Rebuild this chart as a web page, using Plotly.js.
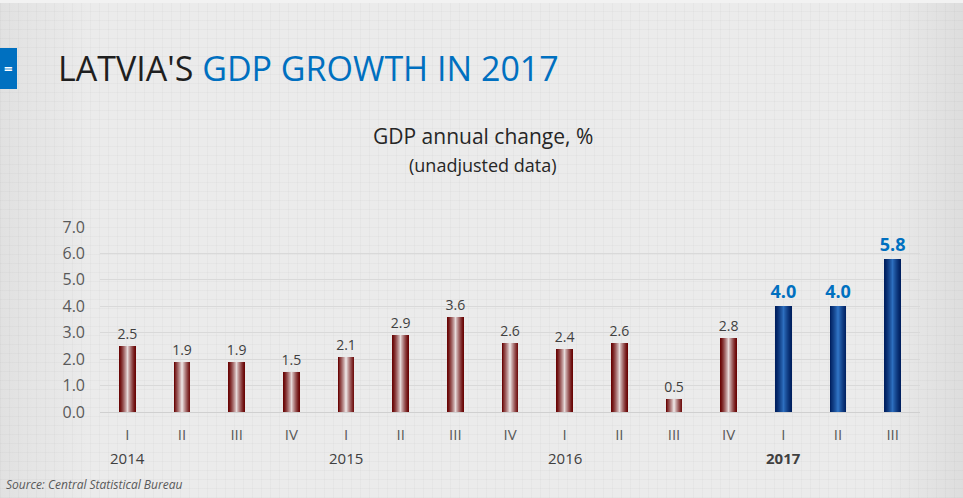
<!DOCTYPE html>
<html>
<head>
<meta charset="utf-8">
<script src="https://cdn.plot.ly/plotly-3.0.1.min.js"></script>
<style>
html,body{margin:0;padding:0;}
#chart{width:963px;height:498px;
 background-color:#ebebeb;
 background-image:
  linear-gradient(90deg, rgba(0,0,0,0.045) 0px, rgba(0,0,0,0) 90px, rgba(0,0,0,0) 880px, rgba(0,0,0,0.06) 963px),
  repeating-linear-gradient(0deg, rgba(0,0,0,0.025) 0px, rgba(0,0,0,0.025) 1px, transparent 1px, transparent 9px),
  repeating-linear-gradient(90deg, rgba(0,0,0,0.025) 0px, rgba(0,0,0,0.025) 1px, transparent 1px, transparent 9px);
 box-sizing:border-box;border-top:3px solid #f2f2f2;}
</style>
</head>
<body>
<div id="chart"></div>
<script>
// ---- data ----
const quarters = ["I","II","III","IV","I","II","III","IV","I","II","III","IV","I","II","III"];
const years = ["2014","2015","2016","2017"];
const yearStartIndex = [0, 4, 8, 12];
const gdpChange = [2.5, 1.9, 1.9, 1.5, 2.1, 2.9, 3.6, 2.6, 2.4, 2.6, 0.5, 2.8, 4.0, 4.0, 5.8];
const highlight = [false,false,false,false,false,false,false,false,false,false,false,false,true,true,true];
const yTicks = [0,1,2,3,4,5,6,7];

// ---- styling helpers ----
function hex(c){return [parseInt(c.slice(1,3),16),parseInt(c.slice(3,5),16),parseInt(c.slice(5,7),16)];}
function mix(a,b,t){const A=hex(a),B=hex(b);return 'rgb('+A.map((v,i)=>Math.round(v+(B[i]-v)*t)).join(',')+')';}
const redEdge="#6a0606", redMid="#e6d9d9";
const blueEdge="#002060", blueMid="#2d6fbf";
const xIdx = quarters.map((q,i)=>i);
const layers = 9;
const fullW = 0.31;
const traces = [];
for(let k=0;k<layers;k++){
  const t = k/(layers-1);
  const w = fullW*(1 - 0.92*t);
  const ease = Math.pow(t,1.3);
  traces.push({
    type:'bar', x:xIdx, y:gdpChange, width:w,
    marker:{color:highlight.map(h=> h? mix(blueEdge,blueMid,ease) : mix(redEdge,redMid,ease)), line:{width:0}},
    hoverinfo:'skip', showlegend:false,
    text: k===0 ? gdpChange.map((v,i)=> highlight[i] ? '<b>'+v.toFixed(1)+'</b>' : v.toFixed(1)) : undefined,
    textposition: k===0 ? 'outside' : 'none',
    constraintext:'none',
    cliponaxis:false,
    textfont: {family:'Open Sans', size: highlight.map(h=>h?18:14), color: highlight.map(h=>h?'#0070c0':'#404040')}
  });
}

const annotations = [];
years.forEach((yr,j)=>{
  annotations.push({xref:'x', yref:'paper', x:yearStartIndex[j], y:-0.248, text: yr==='2017' ? '<b>'+yr+'</b>' : yr,
    showarrow:false, xanchor:'center', yanchor:'middle', font:{family:'Open Sans', size:15, color:'#404040'}});
});
annotations.push({xref:'paper', yref:'paper', x:0.467, y:1.492, text:'GDP annual change, %', showarrow:false,
  xanchor:'center', yanchor:'middle', font:{family:'Open Sans', size:21, color:'#262626'}});
annotations.push({xref:'paper', yref:'paper', x:0.467, y:1.335, text:'(unadjusted data)', showarrow:false,
  xanchor:'center', yanchor:'middle', font:{family:'Open Sans', size:18, color:'#262626'}});
annotations.push({xref:'paper', yref:'paper', x:-0.117, y:-0.392, text:'<i>Source: Central Statistical Bureau</i>', showarrow:false,
  xanchor:'left', yanchor:'middle', font:{family:'Open Sans', size:12, color:'#595959'}});
annotations.push({xref:'paper', yref:'paper', x:-0.1116, y:1.857, text:'<b>=</b>', showarrow:false,
  xanchor:'center', yanchor:'middle', font:{family:'Open Sans', size:15, color:'#ffffff'}});

const layout = {
  width:963, height:495,
  margin:{l:100, r:43, t:224, b:86},
  paper_bgcolor:'rgba(0,0,0,0)', plot_bgcolor:'rgba(0,0,0,0)',
  barmode:'overlay', bargap:0,
  title:{text:"LATVIA'S <span style='color:#0070c0'>GDP GROWTH IN 2017</span>",
    x:58/963, xref:'container', xanchor:'left', y:1-66/495, yref:'container', yanchor:'middle',
    font:{family:'Open Sans', size:34, color:'#1f1f1f'}},
  xaxis:{range:[-0.5,14.5], tickvals:xIdx, ticktext:quarters, showgrid:false, zeroline:false,
    ticks:'', ticklabelstandoff:12, tickfont:{family:'Open Sans', size:15, color:'#595959'}, fixedrange:true},
  yaxis:{range:[0,7], tickvals:yTicks, ticktext:yTicks.map(v=>v.toFixed(1)), showgrid:true, gridcolor:'#d9d9d9', gridwidth:1,
    zeroline:true, zerolinecolor:'#d0d0d0', zerolinewidth:1, ticks:'', ticklabelstandoff:14,
    tickfont:{family:'Open Sans', size:16, color:'#595959'}, fixedrange:true},
  shapes:[{type:'rect', xref:'paper', yref:'paper', x0:-0.1220, x1:-0.1012, y0:1.7459, y1:1.9676,
    fillcolor:'#0070c0', line:{width:0}, layer:'above'}],
  annotations:annotations
};
Plotly.newPlot('chart', traces, layout, {displayModeBar:false, staticPlot:true});
</script>
</body>
</html>
